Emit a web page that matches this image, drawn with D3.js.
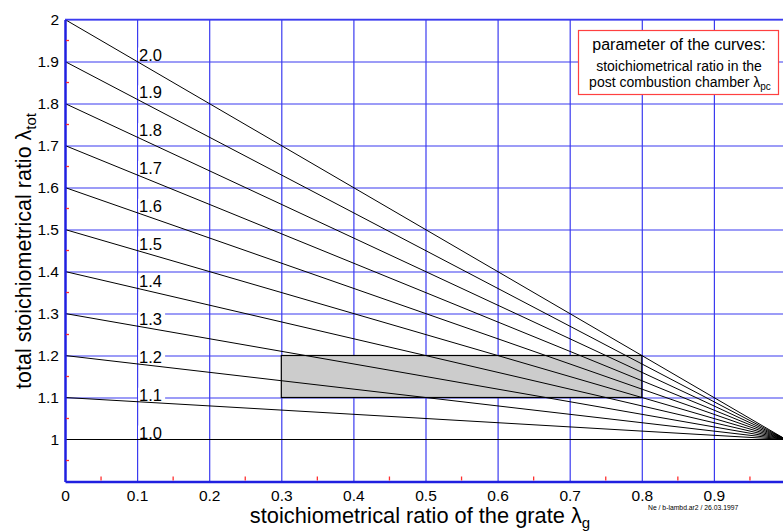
<!DOCTYPE html>
<html>
<head>
<meta charset="utf-8">
<script src="https://cdn.jsdelivr.net/npm/d3@7"></script>
<style>
body { margin: 0; background: #fff; }
text { font-family: "Liberation Sans", Arial, sans-serif; }
</style>
</head>
<body>
<div id="chart"></div>
<script>
//curve parameters (lambda in the post combustion chamber)
var lambdaPc = [1.0, 1.1, 1.2, 1.3, 1.4, 1.5, 1.6, 1.7, 1.8, 1.9, 2.0];
var curveLabels = ["1.0", "1.1", "1.2", "1.3", "1.4", "1.5", "1.6", "1.7", "1.8", "1.9", "2.0"];
var xTicks = [0, 0.1, 0.2, 0.3, 0.4, 0.5, 0.6, 0.7, 0.8, 0.9];
var yTicks = [1, 1.1, 1.2, 1.3, 1.4, 1.5, 1.6, 1.7, 1.8, 1.9, 2];
var xMinor = [0.05, 0.15, 0.25, 0.35, 0.45, 0.55, 0.65, 0.75, 0.85, 0.95];
var yMinor = [0.95, 1.05, 1.15, 1.25, 1.35, 1.45, 1.55, 1.65, 1.75, 1.85, 1.95];
//operating area
var areaX = [0.3, 0.8];
var areaY = [1.1, 1.2];

var svgW = 783;
var svgH = 531;

var svg = d3.select("#chart").append("svg")
    .attr("width", svgW)
    .attr("height", svgH);

var x = d3.scaleLinear().domain([0, 1]).range([65, 786]);
var y = d3.scaleLinear().domain([0.9, 2]).range([481.5, 19.5]);

var blue = "#3b3bf0";
var fontFam = "Liberation Sans, Arial, sans-serif";

//vertical grid
svg.append("g")
    .attr("transform", `translate(0, ${y(0.9)})`)
    .call(d3.axisBottom(x).tickValues(xTicks.slice(1)).tickSize(-(y(0.9) - y(2))).tickFormat(""))
    .call(g => g.select(".domain").remove())
    .call(g => g.selectAll("line").attr("stroke", blue).attr("stroke-width", 1.2));

//horizontal grid
svg.append("g")
    .attr("transform", `translate(${x(0)}, 0)`)
    .call(d3.axisLeft(y).tickValues(yTicks.slice(1)).tickSize(-(x(1) - x(0))).tickFormat(""))
    .call(g => g.select(".domain").remove())
    .call(g => g.selectAll("line").attr("stroke", blue).attr("stroke-width", 1.2));

//grey area
svg.append("rect")
    .attr("x", x(areaX[0]))
    .attr("y", y(areaY[1]))
    .attr("width", x(areaX[1]) - x(areaX[0]))
    .attr("height", y(areaY[0]) - y(areaY[1]))
    .attr("fill", "#cccccc")
    .attr("stroke", "#000")
    .attr("stroke-width", 1.2);

//curves: lambda_tot = lambda_pc at grate 0 down to 1 at grate 1
svg.selectAll(".curve")
    .data(lambdaPc)
    .enter()
    .append("line")
    .attr("class", "curve")
    .attr("x1", x(0))
    .attr("y1", d => y(d))
    .attr("x2", x(1))
    .attr("y2", y(1))
    .attr("stroke", "#000")
    .attr("stroke-width", 1);

//curve labels with white background
var labelG = svg.selectAll(".clabel")
    .data(lambdaPc)
    .enter()
    .append("g")
    .attr("class", "clabel")
    .attr("transform", d => `translate(${x(0.1) + 1}, ${y(d - 0.1 * (d - 1)) - 1})`);

labelG.append("rect")
    .attr("x", 0)
    .attr("y", -13)
    .attr("width", 27)
    .attr("height", 13)
    .attr("fill", "#fff");

labelG.append("text")
    .attr("x", 1)
    .attr("y", 0)
    .attr("font-size", "16.5px")
    .text((d, i) => curveLabels[i]);

//top frame line
svg.append("line")
    .attr("x1", x(0)).attr("x2", svgW)
    .attr("y1", y(2)).attr("y2", y(2))
    .attr("stroke", blue).attr("stroke-width", 1.5);

//left axis
svg.append("g")
    .attr("transform", `translate(${x(0)}, 0)`)
    .call(d3.axisLeft(y).tickValues(yTicks).tickSize(0).tickPadding(6).tickFormat(d3.format("")))
    .call(g => g.select(".domain").attr("stroke", "#2020e0").attr("stroke-width", 2.5))
    .call(g => g.selectAll("text").attr("font-size", "15.5px").attr("fill", "#000")
        .attr("font-family", fontFam));

//bottom axis
svg.append("g")
    .attr("transform", `translate(0, ${y(0.9)})`)
    .call(d3.axisBottom(x).tickValues(xTicks).tickSize(0).tickPadding(8).tickFormat(d3.format("")))
    .call(g => g.select(".domain").attr("stroke", "#2020e0").attr("stroke-width", 2.5))
    .call(g => g.selectAll("text").attr("font-size", "15.5px").attr("fill", "#000")
        .attr("font-family", fontFam));

//red minor ticks
svg.selectAll(".yminor")
    .data(yMinor)
    .enter()
    .append("line")
    .attr("x1", x(0) + 1).attr("x2", x(0) + 4)
    .attr("y1", d => y(d)).attr("y2", d => y(d))
    .attr("stroke", "#ff3030").attr("stroke-width", 1.3);

svg.selectAll(".xminor")
    .data(xMinor)
    .enter()
    .append("line")
    .attr("x1", d => x(d)).attr("x2", d => x(d))
    .attr("y1", y(0.9) - 1).attr("y2", y(0.9) - 5)
    .attr("stroke", "#ff3030").attr("stroke-width", 1.3);

//axis titles
var yTitle = svg.append("text")
    .attr("transform", "translate(31, 251) rotate(-90)")
    .attr("text-anchor", "middle")
    .attr("font-size", "21.5px");
yTitle.append("tspan").text("total stoichiometrical ratio \u03bb");
yTitle.append("tspan").attr("font-size", "15px").attr("dy", 5).text("tot");

var xTitle = svg.append("text")
    .attr("x", 420)
    .attr("y", 523)
    .attr("text-anchor", "middle")
    .attr("font-size", "21.8px");
xTitle.append("tspan").text("stoichiometrical ratio of the grate \u03bb");
xTitle.append("tspan").attr("font-size", "15px").attr("dy", 5).text("g");

svg.append("text")
    .attr("x", 648)
    .attr("y", 510)
    .attr("font-size", "6.8px")
    .text("Ne / b-lambd.ar2 / 26.03.1997");

//legend box
svg.append("rect")
    .attr("x", 578.5)
    .attr("y", 30.5)
    .attr("width", 200)
    .attr("height", 64)
    .attr("fill", "#fff")
    .attr("stroke", "#ff4040")
    .attr("stroke-width", 1.2);

svg.append("text")
    .attr("x", 679)
    .attr("y", 50)
    .attr("text-anchor", "middle")
    .attr("font-size", "16px")
    .text("parameter of the curves:");

svg.append("text")
    .attr("x", 679)
    .attr("y", 70.5)
    .attr("text-anchor", "middle")
    .attr("font-size", "14px")
    .text("stoichiometrical ratio in the");

var leg3 = svg.append("text")
    .attr("x", 680)
    .attr("y", 86.5)
    .attr("text-anchor", "middle")
    .attr("font-size", "14px");
leg3.append("tspan").text("post combustion chamber \u03bb");
leg3.append("tspan").attr("font-size", "10px").attr("dy", 3).text("pc");
</script>
</body>
</html>
